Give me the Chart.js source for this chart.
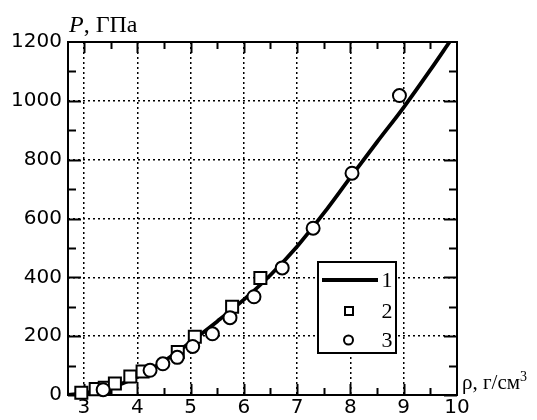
<!DOCTYPE html>
<html>
<head>
<meta charset="utf-8">
<script src="https://cdn.jsdelivr.net/npm/chart.js@4/dist/chart.umd.min.js"></script>
<style>
  html, body { margin: 0; padding: 0; background: #fff; }
  #wrap { width: 537px; height: 420px; }
</style>
</head>
<body>
<div id="wrap"><canvas id="eos"></canvas></div>
<script>
// ρ, г/см3 and P, ГПа
const curveRho = [2.7, 3, 3.5, 4, 4.5, 5, 5.5, 6, 6.5, 7, 7.5, 8, 8.5, 9, 9.5, 9.86];
const curveP   = [0, 6, 25, 62, 115, 180, 250, 324, 408, 505, 618, 740, 860, 978, 1105, 1200];

const squareRho = [2.95, 3.22, 3.39, 3.58, 3.87, 4.1, 4.76, 5.08, 5.78, 6.31];
const squareP   = [8, 20, 25, 39, 63, 80, 146, 198, 300, 398];

const circleRho = [3.36, 4.24, 4.48, 4.75, 5.04, 5.41, 5.74, 6.19, 6.72, 7.3, 8.03, 8.92];
const circleP   = [18, 84, 106, 128, 165, 208, 263, 334, 432, 567, 754, 1018];

const rhoTicks = [3, 4, 5, 6, 7, 8, 9, 10];
const pTicks = [0, 200, 400, 600, 800, 1000, 1200];

const seriesLabels = ['1', '2', '3'];

const toPoints = (xs, ys) => xs.map((v, i) => ({ x: v, y: ys[i] }));

function seg(ctx, x1, y1, x2, y2) {
  ctx.beginPath();
  ctx.moveTo(x1, y1);
  ctx.lineTo(x2, y2);
  ctx.stroke();
}

// box with inward ticks on all four sides
const frame = {
  id: 'frame',
  beforeDatasetsDraw(chart) {
    const { ctx, chartArea: a, scales: { x, y } } = chart;
    ctx.save();
    ctx.strokeStyle = '#000';
    ctx.lineWidth = 2;
    ctx.strokeRect(a.left, a.top, a.right - a.left, a.bottom - a.top);
    for (let v = 0; v < 1200; v += 100) {
      const py = Math.round(y.getPixelForValue(v)) + 0.5;
      const len = v % 200 === 0 ? 13 : 8;
      seg(ctx, a.left, py, a.left + len, py);
      seg(ctx, a.right, py, a.right - len, py);
    }
    for (let v = 3; v < 10; v += 0.5) {
      const px = Math.round(x.getPixelForValue(v)) + 0.5;
      const len = Number.isInteger(v) ? 11 : 7;
      seg(ctx, px, a.top, px, a.top + len);
      seg(ctx, px, a.bottom, px, a.bottom - len);
    }
    ctx.restore();
  },
  afterDraw(chart) {
    const { ctx, chartArea: a } = chart;
    ctx.save();
    ctx.fillStyle = '#000';
    // axis titles
    ctx.textBaseline = 'alphabetic';
    ctx.textAlign = 'left';
    ctx.font = 'italic 24px "Liberation Serif"';
    ctx.fillText('P', a.left + 1, 32);
    let w = ctx.measureText('P').width;
    ctx.font = '24px "Liberation Serif"';
    ctx.fillText(', ГПа', a.left + 1 + w, 32);

    ctx.font = '21px "Liberation Serif"';
    const rx = a.right + 5, ry = a.bottom - 6;
    ctx.fillText('ρ, г/см', rx, ry);
    w = ctx.measureText('ρ, г/см').width;
    ctx.font = '14px "Liberation Serif"';
    ctx.fillText('3', rx + w, ry - 8);

    // legend box
    const bx = a.left + 250, by = a.top + 220, bw = 78, bh = 91;
    ctx.fillStyle = '#fff';
    ctx.fillRect(bx, by, bw, bh);
    ctx.strokeStyle = '#000';
    ctx.lineWidth = 2;
    ctx.strokeRect(bx, by, bw, bh);

    const rows = [by + 18, by + 49, by + 78];
    ctx.lineWidth = 4;
    seg(ctx, bx + 4, rows[0], bx + 60, rows[0]);
    ctx.lineWidth = 2;
    ctx.fillStyle = '#fff';
    ctx.fillRect(bx + 27, rows[1] - 4, 8, 8);
    ctx.strokeRect(bx + 27, rows[1] - 4, 8, 8);
    ctx.beginPath();
    ctx.arc(bx + 30.5, rows[2], 4.5, 0, Math.PI * 2);
    ctx.fill();
    ctx.stroke();

    ctx.fillStyle = '#000';
    ctx.font = '22px "Liberation Serif"';
    ctx.textAlign = 'center';
    ctx.textBaseline = 'middle';
    seriesLabels.forEach((t, i) => ctx.fillText(t, bx + 69, rows[i] + 1));
    ctx.restore();
  }
};

const innerGrid = edge => ctx => (edge.includes(ctx.tick && ctx.tick.value) ? 'rgba(0,0,0,0)' : '#000');
const plain = v => String(v);

new Chart(document.getElementById('eos'), {
  type: 'scatter',
  data: {
    datasets: [
      {
        type: 'line',
        label: seriesLabels[0],
        data: toPoints(curveRho, curveP),
        borderColor: '#000',
        borderWidth: 3.8,
        pointRadius: 0,
        cubicInterpolationMode: 'monotone',
        fill: false,
        order: 3
      },
      {
        label: seriesLabels[1],
        data: toPoints(squareRho, squareP),
        pointStyle: 'rect',
        pointRadius: 8.5,
        borderColor: '#000',
        backgroundColor: '#fff',
        borderWidth: 2,
        clip: false,
        order: 2
      },
      {
        label: seriesLabels[2],
        data: toPoints(circleRho, circleP),
        pointStyle: 'circle',
        pointRadius: 6.5,
        borderColor: '#000',
        backgroundColor: '#fff',
        borderWidth: 2,
        clip: false,
        order: 1
      }
    ]
  },
  options: {
    responsive: true,
    maintainAspectRatio: false,
    animation: false,
    layout: { padding: { left: 0, top: 42, right: 80, bottom: 0 } },
    plugins: { legend: { display: false }, tooltip: { enabled: false } },
    scales: {
      x: {
        type: 'linear',
        min: 2.7,
        max: 10,
        afterBuildTicks: s => { s.ticks = rhoTicks.map(v => ({ value: v })); },
        afterFit: s => { s.height = 25; },
        grid: { color: innerGrid([10]), lineWidth: 1.5, drawTicks: false },
        border: { display: false, dash: [2, 3] },
        ticks: { color: '#000', padding: 1, callback: plain, font: { family: '"DejaVu Sans"', size: 20 } }
      },
      y: {
        type: 'linear',
        min: 0,
        max: 1200,
        afterBuildTicks: s => { s.ticks = pTicks.map(v => ({ value: v })); },
        afterFit: s => { s.width = 68; },
        grid: { color: innerGrid([0, 1200]), lineWidth: 1.5, drawTicks: false },
        border: { display: false, dash: [2, 3] },
        ticks: { color: '#000', padding: 6, callback: plain, font: { family: '"DejaVu Sans"', size: 20 } }
      }
    }
  },
  plugins: [frame]
});
</script>
</body>
</html>
